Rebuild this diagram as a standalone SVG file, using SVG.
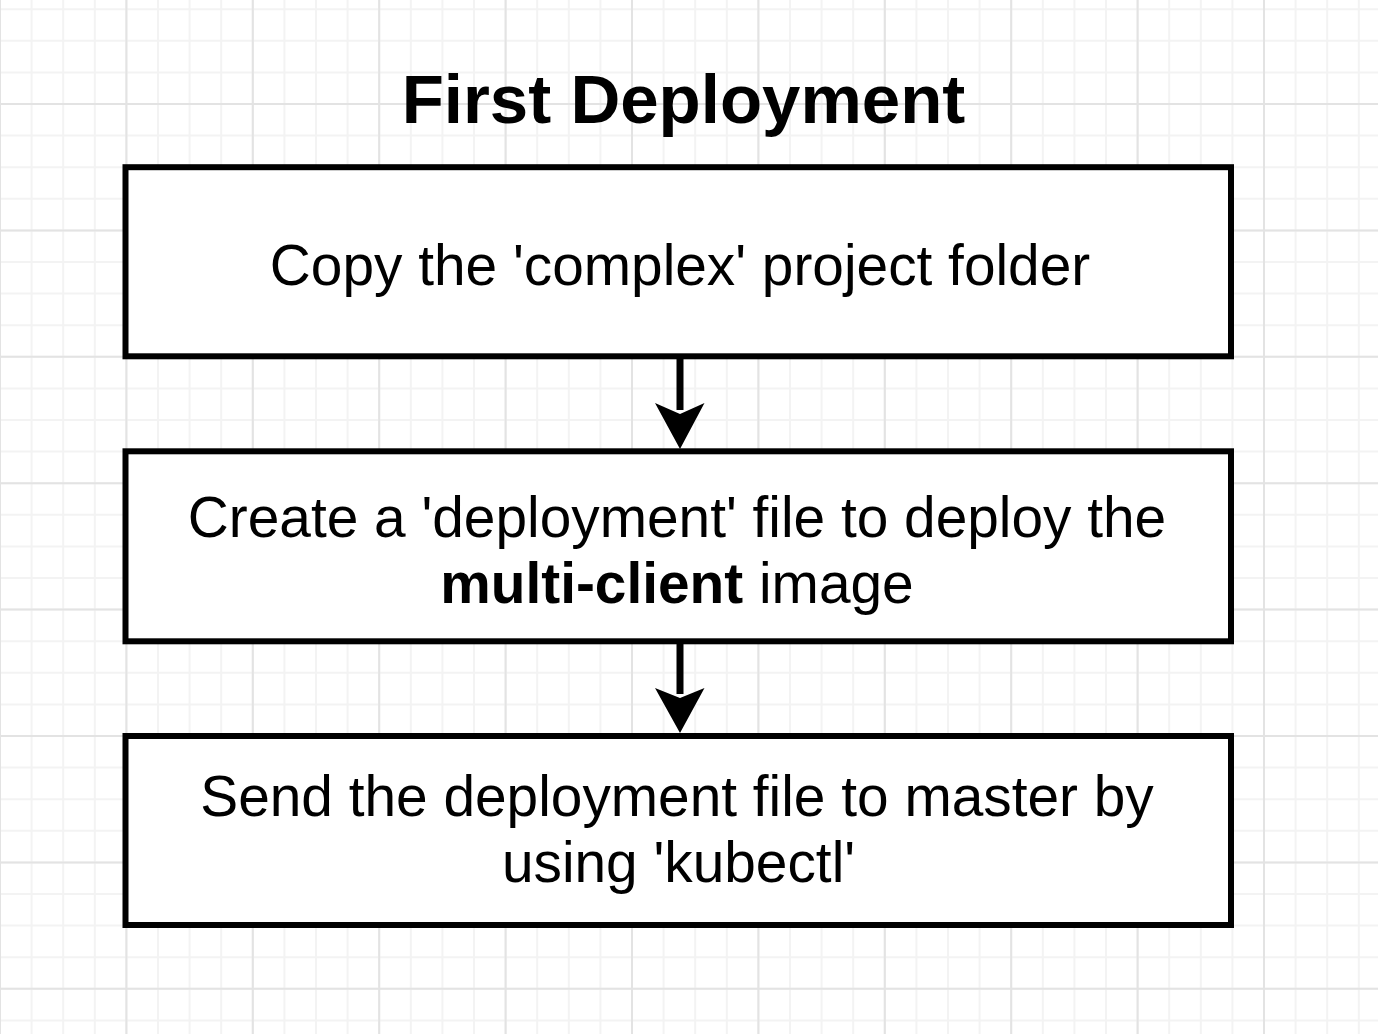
<svg xmlns="http://www.w3.org/2000/svg" width="1378" height="1034" viewBox="0 0 1378 1034">
  <style>
    .grid-minor { fill: none; stroke: #f3f3f3; stroke-width: 2; }
    .grid-major { fill: none; stroke: #e3e3e3; stroke-width: 2; }
    .box { fill: #ffffff; stroke: #000000; stroke-width: 6; }
    .edge { fill: none; stroke: #000000; stroke-width: 7; }
    .head { fill: #000000; stroke: none; }
    .label { font-family: "Liberation Sans", Arial, Helvetica, sans-serif; font-size: 56.8px; fill: #000000; text-anchor: middle; }
    .title { font-family: "Liberation Sans", Arial, Helvetica, sans-serif; font-size: 69px; font-weight: bold; fill: #000000; text-anchor: middle; }
    .b { font-weight: bold; }
  </style>

  <!-- background and grid -->
  <rect x="0" y="0" width="1378" height="1034" fill="#ffffff"/>
  <g id="grid">
    <path class="grid-minor" d="M0 0V1034M31.6 0V1034M63.2 0V1034M94.8 0V1034M126.4 0V1034M158 0V1034M189.6 0V1034M221.2 0V1034M252.8 0V1034M284.4 0V1034M316 0V1034M347.6 0V1034M379.2 0V1034M410.8 0V1034M442.4 0V1034M474 0V1034M505.6 0V1034M537.2 0V1034M568.8 0V1034M600.4 0V1034M632 0V1034M663.6 0V1034M695.2 0V1034M726.8 0V1034M758.4 0V1034M790 0V1034M821.6 0V1034M853.2 0V1034M884.8 0V1034M916.4 0V1034M948 0V1034M979.6 0V1034M1011.2 0V1034M1042.8 0V1034M1074.4 0V1034M1106 0V1034M1137.6 0V1034M1169.2 0V1034M1200.8 0V1034M1232.4 0V1034M1264 0V1034M1295.6 0V1034M1327.2 0V1034M1358.8 0V1034M0 9.2H1378M0 40.8H1378M0 72.4H1378M0 104H1378M0 135.6H1378M0 167.2H1378M0 198.8H1378M0 230.4H1378M0 262H1378M0 293.6H1378M0 325.2H1378M0 356.8H1378M0 388.4H1378M0 420H1378M0 451.6H1378M0 483.2H1378M0 514.8H1378M0 546.4H1378M0 578H1378M0 609.6H1378M0 641.2H1378M0 672.8H1378M0 704.4H1378M0 736H1378M0 767.6H1378M0 799.2H1378M0 830.8H1378M0 862.4H1378M0 894H1378M0 925.6H1378M0 957.2H1378M0 988.8H1378M0 1020.4H1378"/>
    <path class="grid-major" d="M0 0V1034M126.4 0V1034M252.8 0V1034M379.2 0V1034M505.6 0V1034M632 0V1034M758.4 0V1034M884.8 0V1034M1011.2 0V1034M1137.6 0V1034M1264 0V1034M0 104H1378M0 230.4H1378M0 356.8H1378M0 483.2H1378M0 609.6H1378M0 736H1378M0 862.4H1378M0 988.8H1378"/>
  </g>

  <!-- heading -->
  <g id="title">
    <text class="title" x="683.5" y="122.7">First Deployment</text>
  </g>

  <!-- connectors -->
  <g id="connectors">
    <g id="edge-copy-to-create">
      <path class="edge" d="M680 356.3V410"/>
      <polygon class="head" points="680,449 655,403 680,414 704.5,403"/>
    </g>
    <g id="edge-create-to-send">
      <path class="edge" d="M680 641.3V694"/>
      <polygon class="head" points="680,733 655,688 680,698 704.5,688"/>
    </g>
  </g>

  <!-- steps -->
  <g id="step-copy">
    <rect class="box" x="125.5" y="167.2" width="1105.5" height="189.1"/>
    <text class="label" x="680" y="285">Copy the 'complex' project folder</text>
  </g>

  <g id="step-create">
    <rect class="box" x="125.5" y="451.3" width="1105.5" height="190"/>
    <text class="label" x="677" y="537.3">Create a 'deployment' file to deploy the</text>
    <text class="label" x="677" y="602.7"><tspan class="b">multi-client</tspan> image</text>
  </g>

  <g id="step-send">
    <rect class="box" x="125.5" y="736" width="1105.5" height="189"/>
    <text class="label" x="677" y="816">Send the deployment file to master by</text>
    <text class="label" x="678.5" y="882.3">using 'kubectl'</text>
  </g>
</svg>
